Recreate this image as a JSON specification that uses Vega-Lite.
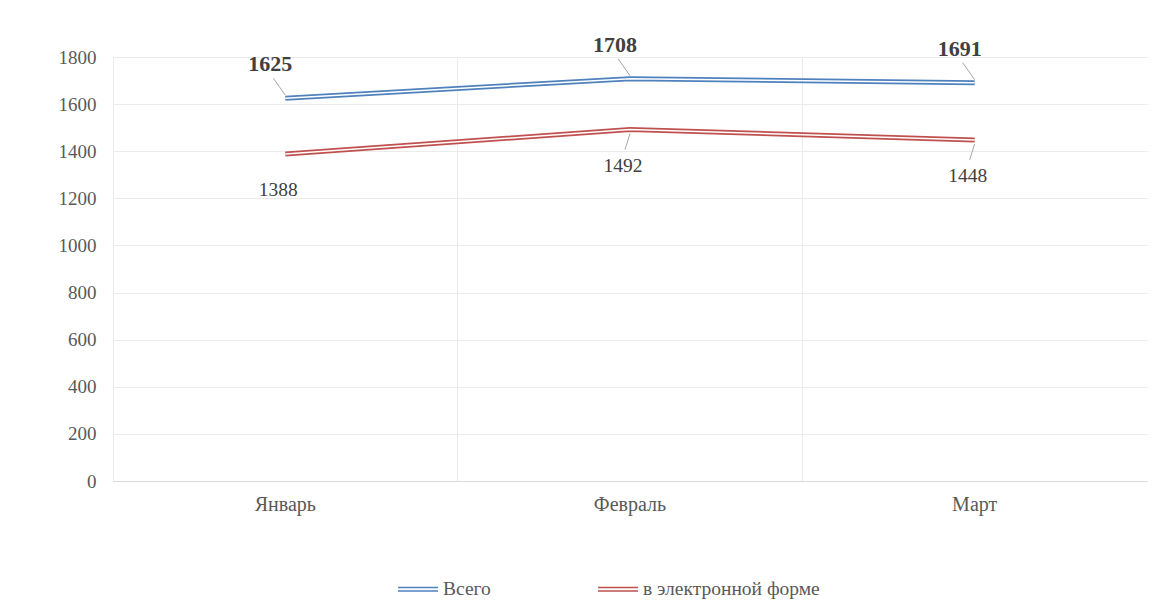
{
  "$schema": "https://vega.github.io/schema/vega-lite/v6.json",
  "width": 1034,
  "height": 424,
  "autosize": {"type": "none"},
  "padding": {"left": 113, "top": 57, "right": 27, "bottom": 125},
  "background": "white",
  "config": {"font": "Liberation Serif", "view": {"stroke": null}},
  "data": {"values": [
    {"month": "Январь", "series": "Всего", "value": 1625},
    {"month": "Февраль", "series": "Всего", "value": 1708},
    {"month": "Март", "series": "Всего", "value": 1691},
    {"month": "Январь", "series": "в электронной форме", "value": 1388},
    {"month": "Февраль", "series": "в электронной форме", "value": 1492},
    {"month": "Март", "series": "в электронной форме", "value": 1448}
  ]},
  "encoding": {
    "x": {"field": "month", "type": "nominal", "sort": ["Январь", "Февраль", "Март"],
      "scale": {"type": "band", "paddingInner": 0, "paddingOuter": 0},
      "axis": {"title": null, "labelAngle": 0, "labelFontSize": 20, "labelColor": "#595959", "labelPadding": 13,
        "ticks": false, "domainColor": "#D9D9D9", "grid": true, "gridColor": "#EBEBEB", "bandPosition": 0}},
    "y": {"field": "value", "type": "quantitative", "scale": {"domain": [0, 1800]},
      "axis": {"title": null, "format": "d", "values": [0, 200, 400, 600, 800, 1000, 1200, 1400, 1600, 1800],
        "labelFontSize": 19, "labelColor": "#595959", "domain": false, "ticks": false,
        "gridColor": "#EBEBEB", "labelPadding": 17}}
  },
  "layer": [
    {"mark": {"type": "line", "strokeWidth": 5},
      "encoding": {"color": {"field": "series", "type": "nominal", "sort": ["Всего", "в электронной форме"],
        "scale": {"range": ["#4F81BD", "#C0504D"]},
        "legend": {"title": null, "orient": "none", "legendX": 284, "legendY": 511, "direction": "horizontal",
          "symbolType": "M-1,-0.09H1M-1,0.09H1", "symbolSize": 1600, "symbolStrokeWidth": 1.4,
          "symbolFillColor": "transparent", "labelFontSize": 19.5, "labelColor": "#595959", "labelLimit": 0,
          "columnPadding": 104, "labelOffset": 4}}}},
    {"mark": {"type": "line", "strokeWidth": 1.5},
      "encoding": {"detail": {"field": "series"}, "color": {"value": "white"}}},
    {"transform": [{"filter": "datum.series === 'Всего'"}],
      "mark": {"type": "rule", "color": "#A6A6A6", "strokeWidth": 1, "yOffset": -3, "x2Offset": -12, "y2Offset": -20},
      "encoding": {"x2": {"field": "month"}, "y2": {"field": "value"}}},
    {"transform": [{"filter": "datum.series !== 'Всего' && datum.month !== 'Январь'"}],
      "mark": {"type": "rule", "color": "#A6A6A6", "strokeWidth": 1, "yOffset": 4, "x2Offset": -5, "y2Offset": 20},
      "encoding": {"x2": {"field": "month"}, "y2": {"field": "value"}}},
    {"transform": [{"filter": "datum.series === 'Всего'"}],
      "mark": {"type": "text", "dx": -15, "dy": -34, "fontSize": 22, "fontWeight": "bold", "color": "#404040"},
      "encoding": {"text": {"field": "value", "type": "quantitative", "format": "d"}}},
    {"transform": [{"filter": "datum.series !== 'Всего'"}],
      "mark": {"type": "text", "dx": -7, "dy": 36, "fontSize": 19.5, "color": "#404040"},
      "encoding": {"text": {"field": "value", "type": "quantitative", "format": "d"}}}
  ]
}
